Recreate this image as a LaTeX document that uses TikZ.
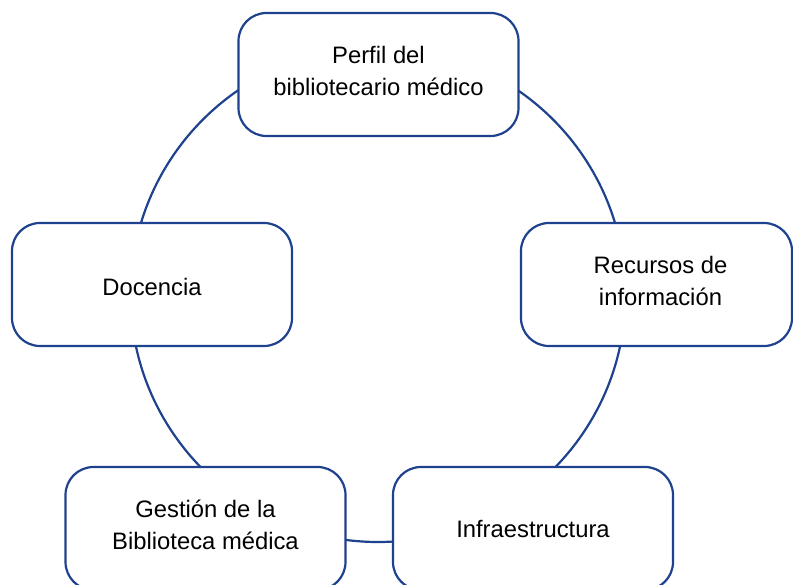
\documentclass[tikz,border=0pt]{standalone}
\usepackage{fontspec}
\setmainfont{Liberation Sans}
\definecolor{boxblue}{RGB}{31,66,143}
\begin{document}
\begin{tikzpicture}[x=1pt,y=-1pt,
  ring/.style={draw=boxblue, line width=2.2pt},
  box/.style={draw=boxblue, line width=2.2pt, fill=white, rounded corners=28pt,
    minimum width=280pt, minimum height=123pt, inner sep=0pt},
  lbl/.style={align=center, inner sep=0pt, font=\fontsize{23.8}{32}\selectfont}]
\useasboundingbox (0,0) rectangle (793,585);
\coordinate (c) at (378,294.5);
\draw[ring] (c) circle [radius=247.5pt];
\node[box] (perfil) at (378.5,74.5) {};
\node[box] (docencia) at (152,284.5) {};
\node[box, minimum width=271pt] (recursos) at (656.5,284.5) {};
\node[box] (gestion) at (205.5,528.5) {};
\node[box] (infra) at (533,528.5) {};
\node[lbl] (perfilt) at ([yshift=4pt]perfil.center) {Perfil del\\bibliotecario médico};
\node[lbl] (docenciat) at ([yshift=-2pt]docencia.center) {Docencia};
\node[lbl] (recursost) at ([xshift=4pt,yshift=4pt]recursos.center) {Recursos de\\información};
\node[lbl] (gestiont) at ([yshift=4pt]gestion.center) {Gestión de la\\Biblioteca médica};
\node[lbl] (infrat) at ([yshift=-1pt]infra.center) {Infraestructura};
\end{tikzpicture}
\end{document}
